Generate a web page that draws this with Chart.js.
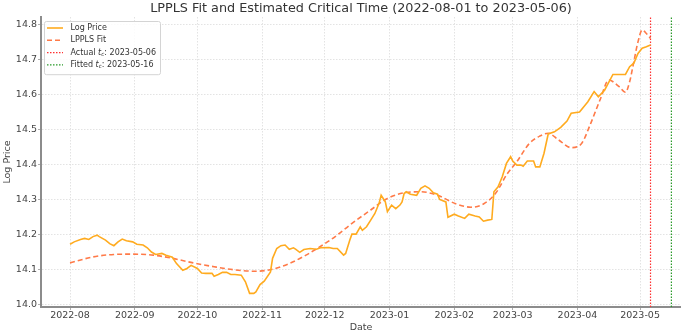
<!DOCTYPE html>
<html>
<head>
<meta charset="utf-8">
<title>LPPLS Fit</title>
<script src="https://cdn.jsdelivr.net/npm/chart.js@4.4.1/dist/chart.umd.min.js"></script>
<style>
  html, body { margin: 0; padding: 0; background: #fff; }
</style>
</head>
<body>
<canvas id="lppls" width="681" height="333"></canvas>
<script>
const START_DATE = '2022-08-01';
const TITLE = 'LPPLS Fit and Estimated Critical Time (2022-08-01 to 2023-05-06)';

// log price, x = days since START_DATE
const priceDays = [0,2,5,7,9,11,13,14,17,19,21,23,25,27,30,32,35,37,39,41,44,46,49,51,54,56,58,61,63,65,
  68,69,71,73,75,77,79,82,84,86,88,89,91,93,96,97,99,101,103,105,107,108,110,112,115,118,120,124,126,128,
  131,132,134,135,137,139,140,142,144,146,148,149,151,152,154,156,158,159,160,161,163,166,168,170,172,174,176,177,180,181,
  184,186,189,191,194,196,198,200,202,203,205,207,209,211,212,214,216,217,219,222,223,225,227,229,232,235,238,240,244,248,
  251,253,256,260,266,268,270,272,274,276,278];
const logPrice = [14.173,14.180,14.187,14.190,14.187,14.195,14.199,14.195,14.185,14.175,
  14.169,14.180,14.188,14.183,14.180,14.173,14.171,14.163,14.151,14.144,
  14.147,14.142,14.136,14.118,14.099,14.104,14.113,14.104,14.091,14.090,
  14.090,14.082,14.087,14.093,14.093,14.087,14.087,14.085,14.066,14.033,
  14.033,14.037,14.058,14.068,14.094,14.133,14.161,14.169,14.171,14.159,
  14.163,14.159,14.150,14.158,14.161,14.159,14.163,14.164,14.161,14.161,
  14.142,14.147,14.185,14.202,14.202,14.223,14.213,14.223,14.242,14.261,
  14.290,14.313,14.294,14.266,14.285,14.275,14.285,14.294,14.318,14.323,
  14.316,14.313,14.333,14.340,14.333,14.320,14.316,14.301,14.294,14.250,
  14.259,14.254,14.247,14.259,14.254,14.251,14.239,14.242,14.244,14.323,
  14.337,14.366,14.404,14.423,14.411,14.399,14.399,14.396,14.411,14.411,
  14.394,14.394,14.433,14.488,14.494,14.507,14.525,14.547,14.551,14.580,
  14.609,14.594,14.613,14.658,14.658,14.680,14.690,14.718,14.733,14.737,
  14.742];

// LPPLS fitted curve
const fitDays = [0,11,21,30,40,49,59,69,79,89,97,105,113,121,127,134,144,152,161,168,
  176,185,192,198,204,209,214,220,225,229,234,240,245,249,254,258,263,266,268,270,
  272,274,276,278];
const fitValues = [14.120,14.137,14.144,14.145,14.142,14.133,14.120,14.109,14.100,14.096,
  14.102,14.118,14.142,14.171,14.195,14.228,14.271,14.304,14.321,14.323,
  14.313,14.288,14.279,14.288,14.320,14.371,14.409,14.461,14.482,14.490,
  14.471,14.449,14.461,14.513,14.588,14.642,14.623,14.607,14.637,14.694,
  14.751,14.785,14.775,14.761];

const actualTc = '2023-05-06';
const fittedTc = '2023-05-16';

const monthLabels = ['2022-08','2022-09','2022-10','2022-11','2022-12','2023-01','2023-02','2023-03','2023-04','2023-05'];
const yTicks = [14.0, 14.1, 14.2, 14.3, 14.4, 14.5, 14.6, 14.7, 14.8];

const Y_MIN = 13.994, Y_MAX = 14.822;
const X_MIN = -13.9, X_MAX = 292.6;

const dayOf = s => Math.round((Date.parse(s) - Date.parse(START_DATE)) / 86400000);
const monthDays = monthLabels.map(m => dayOf(m + '-01'));
const pts = (xs, ys) => xs.map((x, i) => ({ x, y: ys[i] }));
const vline = d => [{ x: dayOf(d), y: Y_MIN }, { x: dayOf(d), y: Y_MAX }];

Chart.defaults.font.family = '"DejaVu Sans", sans-serif';
Chart.defaults.color = '#444';

// title centred over the plot area
const plotTitle = {
  id: 'plotTitle',
  afterDraw(chart) {
    const { ctx, chartArea } = chart;
    ctx.save();
    ctx.font = '12.8px "DejaVu Sans"';
    ctx.fillStyle = '#333';
    ctx.textAlign = 'center';
    ctx.textBaseline = 'middle';
    ctx.fillText(TITLE, (chartArea.left + chartArea.right) / 2, 9);
    ctx.restore();
  }
};

// boxed legend in the upper left, "t_c" drawn as italic t with subscript c
const legendBox = {
  id: 'legendBox',
  afterDraw(chart) {
    const { ctx, chartArea } = chart;
    const items = chart.data.datasets;
    const x0 = chartArea.left + 3, y0 = chartArea.top + 4;
    const w = 116, rowH = 12.3, h = items.length * rowH + 4;
    ctx.save();
    ctx.fillStyle = 'rgba(255,255,255,0.85)';
    ctx.strokeStyle = '#d4d4d4';
    ctx.lineWidth = 1;
    ctx.beginPath();
    ctx.roundRect(x0 + 0.5, y0 + 0.5, w, h, 2);
    ctx.fill();
    ctx.stroke();
    ctx.textBaseline = 'middle';
    items.forEach((ds, i) => {
      const cy = y0 + 7 + i * rowH;
      ctx.strokeStyle = ds.borderColor;
      ctx.lineWidth = ds.borderWidth;
      ctx.setLineDash(ds.borderDash || []);
      ctx.beginPath();
      ctx.moveTo(x0 + 3, cy);
      ctx.lineTo(x0 + 19, cy);
      ctx.stroke();
      ctx.setLineDash([]);
      ctx.fillStyle = '#333';
      let tx = x0 + 26.5;
      const parts = ds.label.split('t_c');
      ctx.font = '8px "DejaVu Sans"';
      ctx.fillText(parts[0], tx, cy);
      tx += ctx.measureText(parts[0]).width;
      if (parts.length > 1) {
        ctx.font = 'italic 8px "DejaVu Sans"';
        ctx.fillText('t', tx, cy);
        tx += ctx.measureText('t').width;
        ctx.font = 'italic 5.6px "DejaVu Sans"';
        ctx.fillText('c', tx, cy + 2);
        tx += ctx.measureText('c').width;
        ctx.font = '8px "DejaVu Sans"';
        ctx.fillText(parts[1], tx, cy);
      }
    });
    ctx.restore();
  }
};

const gridStyle = { color: '#dcdcdc', lineWidth: 0.8, tickLength: 3, tickColor: '#999' };
const borderStyle = { color: '#8c8c8c', width: 2, dash: [1.5, 1.5] };

new Chart(document.getElementById('lppls'), {
  type: 'line',
  data: {
    datasets: [
      { label: 'Log Price', data: pts(priceDays, logPrice), borderColor: '#ffab1f', borderWidth: 1.6,
        pointRadius: 0, tension: 0 },
      { label: 'LPPLS Fit', data: pts(fitDays, fitValues), borderColor: '#ff7a48', borderWidth: 1.6,
        borderDash: [5, 3], pointRadius: 0, cubicInterpolationMode: 'monotone' },
      { label: 'Actual t_c: ' + actualTc, data: vline(actualTc), borderColor: '#ff3030', borderWidth: 1.2,
        borderDash: [1.5, 1.5], pointRadius: 0 },
      { label: 'Fitted t_c: ' + fittedTc, data: vline(fittedTc), borderColor: '#2a9a2a', borderWidth: 1.2,
        borderDash: [1.5, 1.5], pointRadius: 0 }
    ]
  },
  options: {
    responsive: false,
    animation: false,
    devicePixelRatio: 1,
    layout: { padding: { top: 17, left: 0, right: 0, bottom: 0 } },
    plugins: { legend: { display: false }, tooltip: { enabled: false } },
    scales: {
      x: {
        type: 'linear',
        min: X_MIN,
        max: X_MAX,
        afterBuildTicks: s => { s.ticks = monthDays.map(v => ({ value: v })); },
        afterFit: s => { s.height = 26; },
        ticks: {
          autoSkip: false, maxRotation: 0, padding: 0,
          font: { size: 9.5 },
          callback: v => monthLabels[monthDays.indexOf(v)]
        },
        grid: gridStyle,
        border: borderStyle,
        title: { display: true, text: 'Date', font: { size: 9.5 }, padding: 0 }
      },
      y: {
        min: Y_MIN,
        max: Y_MAX,
        afterBuildTicks: s => { s.ticks = yTicks.map(v => ({ value: v })); },
        afterFit: s => { s.width = 41; },
        ticks: { padding: 1, font: { size: 9.5 }, callback: v => v.toFixed(1) },
        grid: gridStyle,
        border: borderStyle,
        title: { display: true, text: 'Log Price', font: { size: 9.5 }, padding: { top: 2, bottom: 0 } }
      }
    }
  },
  plugins: [plotTitle, legendBox]
});
</script>
</body>
</html>
